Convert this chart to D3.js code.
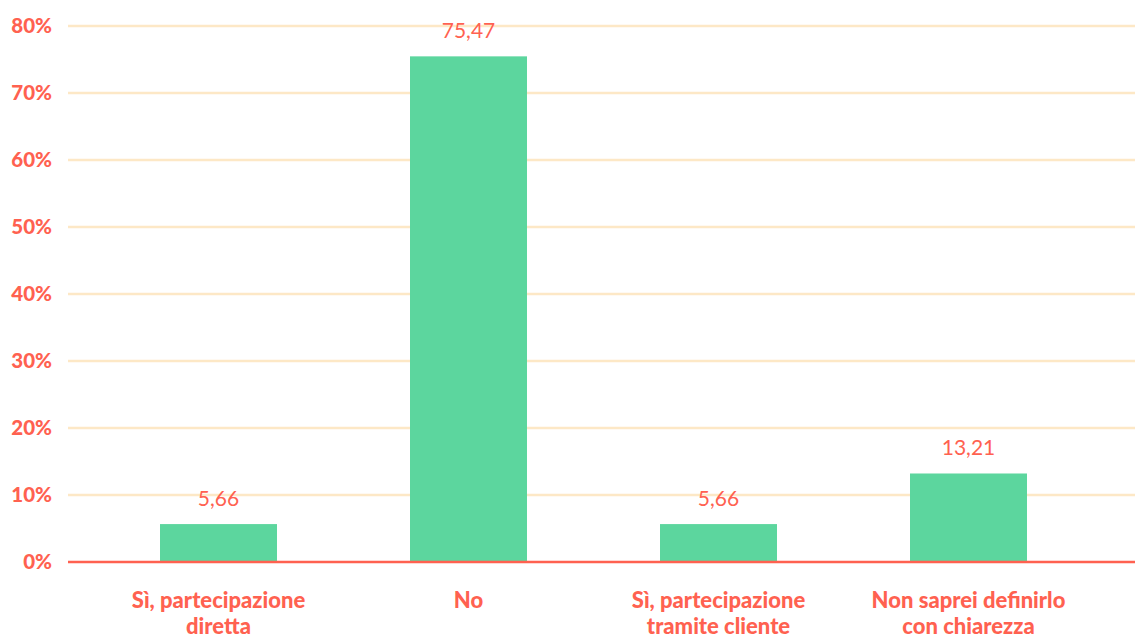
<!DOCTYPE html>
<html><head><meta charset="utf-8">
<script src="https://cdn.jsdelivr.net/npm/d3@7"></script>
<style>body{margin:0;background:#fff}svg{display:block}</style>
</head><body>
<script>
const categories = [["Sì, partecipazione","diretta"],["No"],["Sì, partecipazione","tramite cliente"],["Non saprei definirlo","con chiarezza"]];
const values = [5.66, 75.47, 5.66, 13.21];
const valueLabels = ["5,66","75,47","5,66","13,21"];
const yTicks = [0,10,20,30,40,50,60,70,80];

const W=1138,H=642;
const svg=d3.select("body").append("svg").attr("width",W).attr("height",H);
const font="'Source Sans Pro', Lato, 'Open Sans', sans-serif";
const red="#ff6150";
const y=d3.scaleLinear().domain([0,80]).range([562,26]);
const x=d3.scaleBand().domain(d3.range(categories.length)).range([93.5,1093.5]).paddingInner(0.532).paddingOuter(0.266);

svg.append("g").selectAll("line").data(yTicks.slice(1)).join("line")
  .attr("x1",68).attr("x2",1135).attr("y1",d=>y(d)).attr("y2",d=>y(d))
  .attr("stroke","#fde8c6").attr("stroke-width",2.5);

svg.append("g").selectAll("text").data(yTicks).join("text")
  .attr("x",52).attr("y",d=>y(d)+7).attr("text-anchor","end")
  .attr("font-family",font).attr("font-weight",900).attr("font-size",20.5).attr("fill",red)
  .text(d=>d+"%");

svg.append("g").selectAll("rect").data(values).join("rect")
  .attr("x",(d,i)=>x(i)).attr("width",x.bandwidth())
  .attr("y",d=>y(d)).attr("height",d=>y(0)-y(d)).attr("fill","#5cd69e");

svg.append("line").attr("x1",68).attr("x2",1135).attr("y1",y(0)).attr("y2",y(0))
  .attr("stroke","#ff6150").attr("stroke-width",2.5);

svg.append("g").selectAll("text").data(values).join("text")
  .attr("x",(d,i)=>x(i)+x.bandwidth()/2).attr("y",d=>y(d)-18).attr("text-anchor","middle")
  .attr("font-family",font).attr("font-size",21).attr("fill",red)
  .text((d,i)=>valueLabels[i]);

const cg=svg.append("g").selectAll("text").data(categories).join("text")
  .attr("x",(d,i)=>x(i)+x.bandwidth()/2).attr("y",608).attr("text-anchor","middle")
  .attr("font-family",font).attr("font-weight",900).attr("font-size",22).attr("fill",red);
cg.selectAll("tspan").data((d,i)=>d.map(t=>({t,i}))).join("tspan")
  .attr("x",d=>x(d.i)+x.bandwidth()/2).attr("dy",(d,j)=>j?26:0).text(d=>d.t);
</script>
</body></html>
